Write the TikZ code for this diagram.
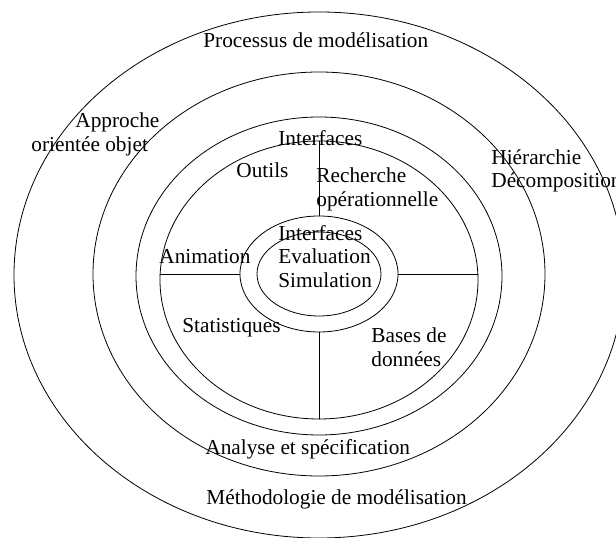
\documentclass[tikz,border=0pt]{standalone}
\usepackage{fontspec}
\setmainfont{Liberation Serif}
\usetikzlibrary{shapes.geometric}
\begin{document}
\begin{tikzpicture}[x=1pt,y=1pt, line join=round, line cap=round, line width=0.8pt,
    ring/.style={draw, ellipse, inner sep=0pt, outer sep=0pt},
    lbl/.style={anchor=base west, inner sep=0pt, font=\fontsize{21.3}{24}\selectfont}]
        \def\cx{319}
        \clip (0,0) rectangle (616,538);
        % rings, outside to inside
        \node[ring, minimum width=610, minimum height=526] (proc) at (\cx,263) {};
        \node[ring, minimum width=452, minimum height=404] (meth) at (\cx,264) {};
        \node[ring, minimum width=366, minimum height=318] (anal) at (\cx,262) {};
        \node[ring, minimum width=318, minimum height=278] (outl) at (\cx,258) {};
        \node[ring, minimum width=158, minimum height=116] (core) at (\cx,264) {};
        \node[ring, minimum width=124, minimum height=84] (eval) at (\cx,264) {};
        % cross
        \draw (outl.north) -- (core.north);
        \draw (core.south) -- (outl.south);
        \draw (core.west) -- (core.west -| outl.west);
        \draw (core.east) -- (core.east -| outl.east);
        % labels
        \node[lbl] (tproc) at (203,490) {Processus de modélisation};
        \node[lbl] (tappr) at (75,410) {Approche};
        \node[lbl] (tappr2) at (31,386) {orientée objet};
        \node[lbl] (thier) at (491,373) {Hiérarchie};
        \node[lbl] (thier2) at (491,350) {Décomposition};
        \node[lbl] (tintf) at (278,392) {Interfaces};
        \node[lbl] (toutil) at (236,360) {Outils};
        \node[lbl] (trech) at (316,355) {Recherche};
        \node[lbl] (trech2) at (316,331) {opérationnelle};
        \node[lbl] (tint2) at (278,297) {Interfaces};
        \node[lbl] (teval) at (278,274) {Evaluation};
        \node[lbl] (tsimu) at (278,250) {Simulation};
        \node[lbl] (tanim) at (159,274) {Animation};
        \node[lbl] (tstat) at (182,205) {Statistiques};
        \node[lbl] (tbase) at (371,195) {Bases de};
        \node[lbl] (tbase2) at (371,171) {données};
        \node[lbl] (tanal) at (205,83) {Analyse et spécification};
        \node[lbl] (tmeth) at (206,33) {Méthodologie de modélisation};
    \end{tikzpicture}
\end{document}
